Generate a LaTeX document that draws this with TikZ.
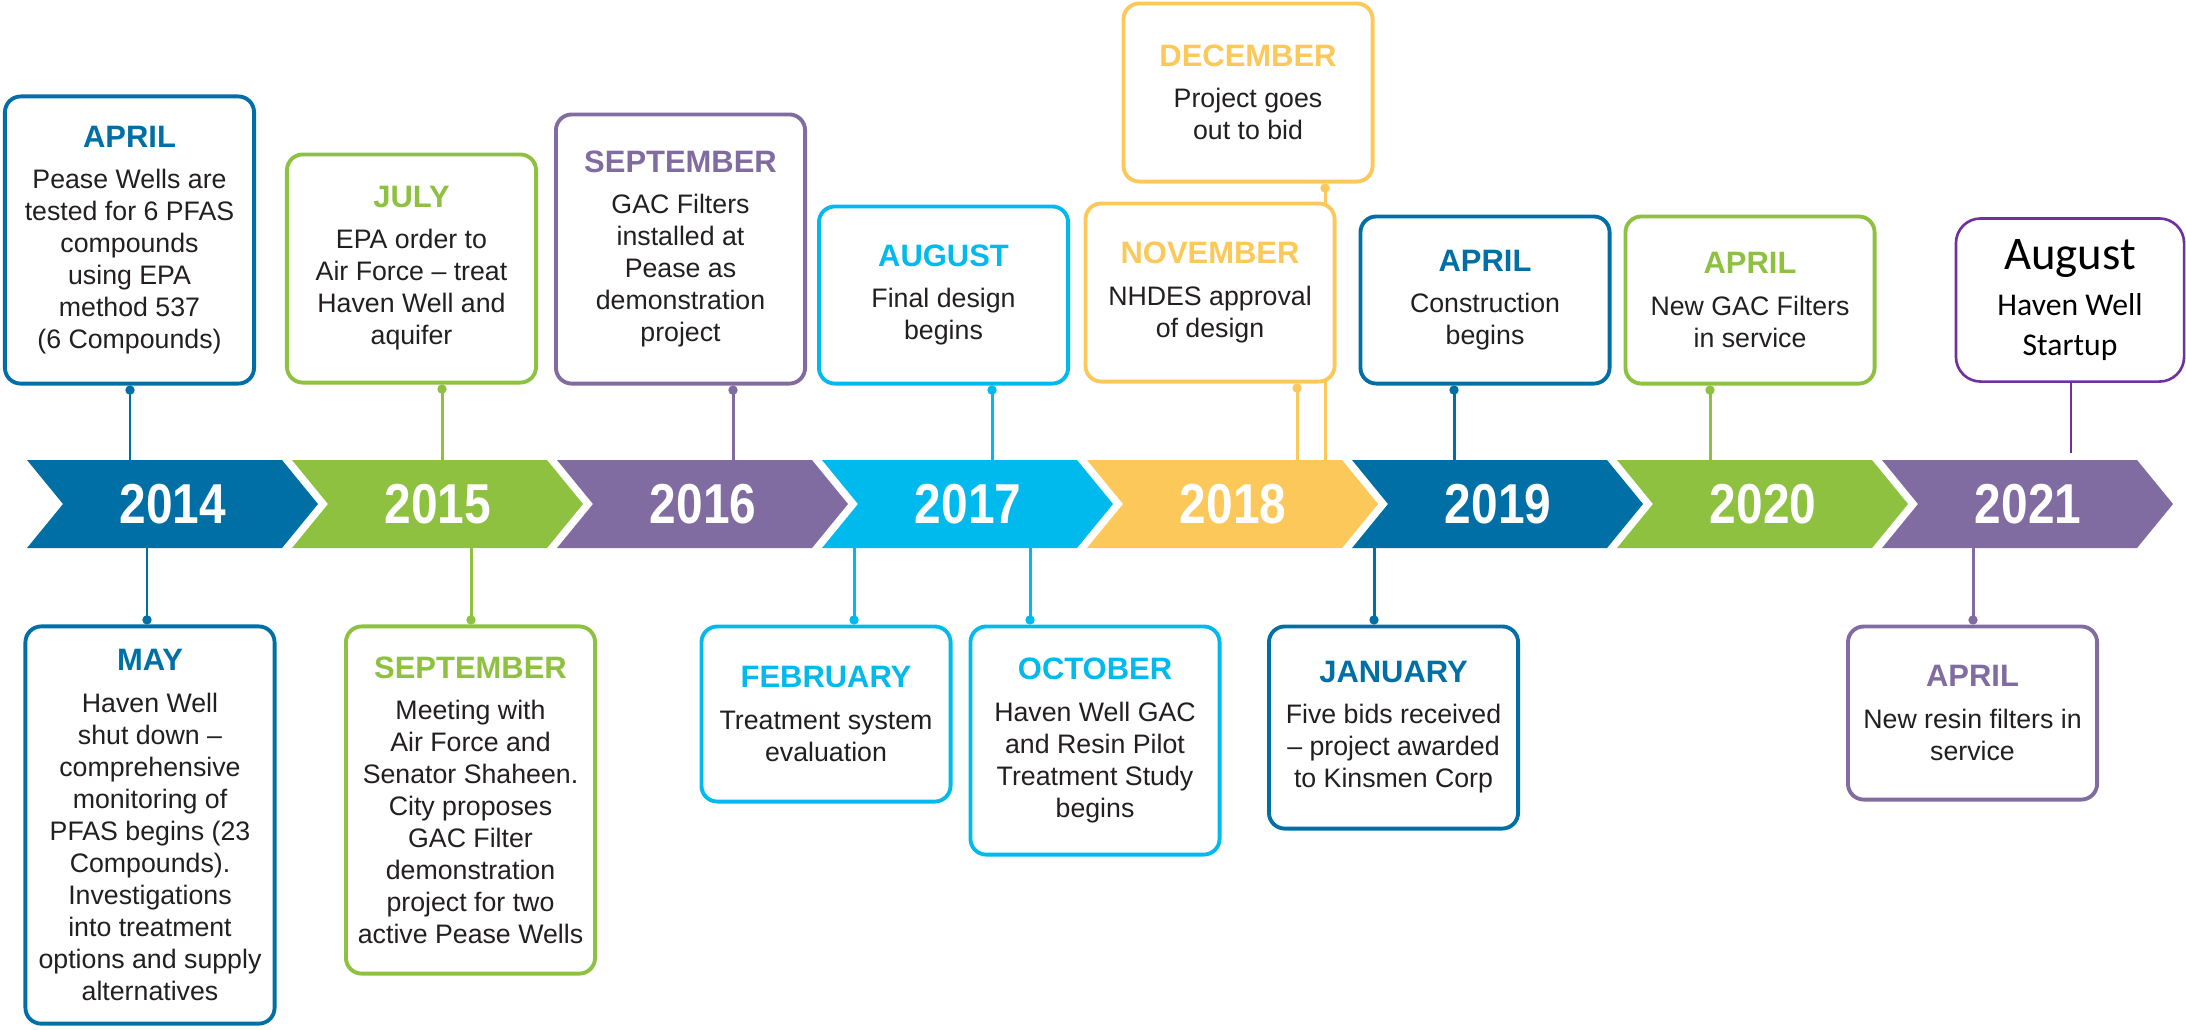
\documentclass[tikz,border=0pt]{standalone}
\usepackage{fontspec}
\setmainfont{Liberation Sans}
\newfontfamily\yearfont[FakeStretch=0.85]{Liberation Sans}
\newfontfamily\calfont{Carlito}
\usetikzlibrary{arrows.meta}

\definecolor{tlblue}{RGB}{0,111,166}
\definecolor{tlgreen}{RGB}{141,193,63}
\definecolor{tlpurple}{RGB}{128,108,161}
\definecolor{tlcyan}{RGB}{0,185,237}
\definecolor{tlyellow}{RGB}{253,200,90}
\definecolor{tlviolet}{RGB}{112,48,160}
\definecolor{tltext}{RGB}{35,31,32}

\tikzset{
  event/.style={draw=#1, fill=white, line width=1.1pt, rounded corners=4.5pt,
    minimum width=2.49cm, align=center, text=tltext, inner sep=0pt,
    font=\fontsize{7.6}{9.1}\selectfont},
  stem/.style={draw=#1, line width=0.85pt, -{Circle[length=2.6pt]}},
  yearlabel/.style={text=white, font=\yearfont\bfseries\fontsize{16}{16}\selectfont},
}
\newcommand{\evhead}[2]{{\color{#1}\fontsize{8.8}{9.1}\selectfont\bfseries #2}\\[2.6pt]}

\begin{document}
\begin{tikzpicture}[x=0.01cm, y=-0.01cm]
  \useasboundingbox (0,0) rectangle (2186,1029);

  % the year band
  \foreach \yr/\col [count=\i from 0] in {2014/tlblue, 2015/tlgreen, 2016/tlpurple, 2017/tlcyan,
      2018/tlyellow, 2019/tlblue, 2020/tlgreen, 2021/tlpurple}{
    \pgfmathsetmacro{\xo}{27+265*\i}
    \fill[\col] (\xo,460) -- ++(255,0) -- ++(36,44) -- ++(-36,44) -- ++(-255,0) -- ++(36,-44) -- cycle;
    \node[yearlabel] (y\yr) at (\xo+146,504) {\yr};
  }

  % where the stems meet the band
  \coordinate (t14) at (130,460);
  \coordinate (t15) at (442,460);
  \coordinate (t16) at (733,460);
  \coordinate (t17) at (992,460);
  \coordinate (t18a) at (1297,460);
  \coordinate (t18b) at (1325,460);
  \coordinate (t19) at (1454,460);
  \coordinate (t20) at (1710,460);
  \coordinate (t21) at (2071,453);
  \coordinate (b14) at (147,548);
  \coordinate (b15) at (471,548);
  \coordinate (b17a) at (854,548);
  \coordinate (b17b) at (1030,548);
  \coordinate (b19) at (1374,548);
  \coordinate (b21) at (1973,548);

  % upper events
  \node[event=tlblue, minimum height=2.87cm] (apr14) at (129.5,240)
    {\evhead{tlblue}{APRIL}Pease Wells are\\tested for 6 PFAS\\compounds\\using EPA\\method 537\\(6 Compounds)};
  \node[event=tlgreen, minimum height=2.28cm] (jul15) at (411.5,268.5)
    {\evhead{tlgreen}{JULY}EPA order to\\Air Force -- treat\\Haven Well and\\aquifer};
  \node[event=tlpurple, minimum height=2.69cm] (sep16) at (680.5,249)
    {\evhead{tlpurple}{SEPTEMBER}GAC Filters\\installed at\\Pease as\\demonstration\\project};
  \node[event=tlcyan, minimum height=1.77cm] (aug17) at (943.5,295)
    {\evhead{tlcyan}{AUGUST}Final design\\begins};
  \node[event=tlyellow, minimum height=1.78cm] (dec18) at (1248,92.5)
    {\evhead{tlyellow}{DECEMBER}Project goes\\out to bid};
  \draw[stem=tlyellow] (t18b) -- (t18b |- dec18.south);
  \node[event=tlyellow, minimum height=1.78cm] (nov18) at (1210,292.5)
    {\evhead{tlyellow}{NOVEMBER}NHDES approval\\of design};
  \node[event=tlblue, minimum height=1.67cm] (apr19) at (1485,300)
    {\evhead{tlblue}{APRIL}Construction\\begins};
  \node[event=tlgreen, minimum height=1.67cm] (apr20) at (1750,300)
    {\evhead{tlgreen}{APRIL}New GAC Filters\\in service};
  \node[event=tlviolet, line width=0.75pt, rounded corners=7pt, minimum width=2.28cm,
    minimum height=1.63cm, text=black, font=\calfont\fontsize{9}{11.4}\selectfont] (aug21) at (2070,300)
    {{\fontsize{13.3}{13}\selectfont August}\\[1.5pt]Haven Well\\Startup};

  \draw[stem=tlblue] (t14) -- (t14 |- apr14.south);
  \draw[stem=tlgreen] (t15) -- (t15 |- jul15.south);
  \draw[stem=tlpurple] (t16) -- (t16 |- sep16.south);
  \draw[stem=tlcyan] (t17) -- (t17 |- aug17.south);
  \draw[stem=tlyellow] (t18a) -- (t18a |- nov18.south);
  \draw[stem=tlblue] (t19) -- (t19 |- apr19.south);
  \draw[stem=tlgreen] (t20) -- (t20 |- apr20.south);
  \draw[tlviolet, line width=0.6pt] (t21) -- (t21 |- aug21.south);

  % lower events
  \node[event=tlblue, minimum height=3.97cm] (may14) at (150,825)
    {\evhead{tlblue}{MAY}Haven Well\\shut down --\\comprehensive\\monitoring of\\PFAS begins (23\\Compounds).\\Investigations\\into treatment\\options and supply\\alternatives};
  \node[event=tlgreen, minimum height=3.47cm] (sep15) at (470.5,800)
    {\evhead{tlgreen}{SEPTEMBER}Meeting with\\Air Force and\\Senator Shaheen.\\City proposes\\GAC Filter\\demonstration\\project for two\\active Pease Wells};
  \node[event=tlcyan, minimum height=1.75cm] (feb17) at (826,714)
    {\evhead{tlcyan}{FEBRUARY}Treatment system\\evaluation};
  \node[event=tlcyan, minimum height=2.28cm] (oct17) at (1095,740.5)
    {\evhead{tlcyan}{OCTOBER}Haven Well GAC\\and Resin Pilot\\Treatment Study\\begins};
  \node[event=tlblue, minimum height=2.02cm] (jan19) at (1393.5,727.5)
    {\evhead{tlblue}{JANUARY}Five bids received\\-- project awarded\\to Kinsmen Corp};
  \node[event=tlpurple, minimum height=1.73cm] (apr21) at (1972.5,713)
    {\evhead{tlpurple}{APRIL}New resin filters in\\service};

  \draw[stem=tlblue] (b14) -- (b14 |- may14.north);
  \draw[stem=tlgreen] (b15) -- (b15 |- sep15.north);
  \draw[stem=tlcyan] (b17a) -- (b17a |- feb17.north);
  \draw[stem=tlcyan] (b17b) -- (b17b |- oct17.north);
  \draw[stem=tlblue] (b19) -- (b19 |- jan19.north);
  \draw[stem=tlpurple] (b21) -- (b21 |- apr21.north);
\end{tikzpicture}
\end{document}
